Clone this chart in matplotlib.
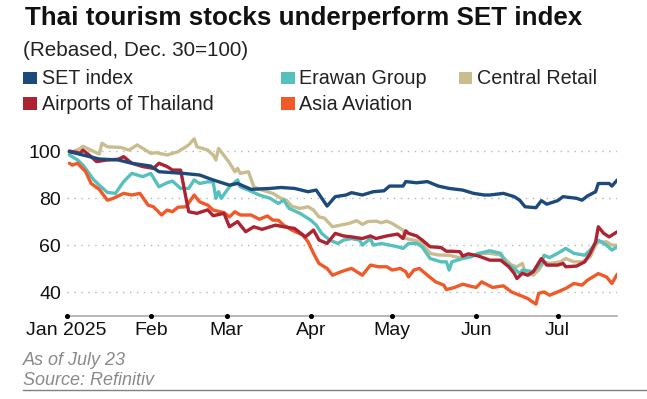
import matplotlib
matplotlib.use("Agg")
import matplotlib.pyplot as plt
import matplotlib.transforms as mtransforms
from matplotlib.patches import Rectangle
from matplotlib.lines import Line2D
import pandas as pd

plt.rcParams['font.family'] = ['Liberation Sans', 'DejaVu Sans']

# ---------------- data (rebased, Dec. 30 = 100) ----------------
set_dates = ['2025-01-02', '2025-01-07', '2025-01-13', '2025-01-20', '2025-01-25', '2025-02-01',
             '2025-02-04', '2025-02-13', '2025-02-19', '2025-02-24', '2025-03-02', '2025-03-05',
             '2025-03-10', '2025-03-17', '2025-03-21', '2025-03-26', '2025-03-31', '2025-04-03',
             '2025-04-07', '2025-04-10', '2025-04-14', '2025-04-16', '2025-04-20', '2025-04-24',
             '2025-04-28', '2025-04-30', '2025-05-05', '2025-05-06', '2025-05-10', '2025-05-14',
             '2025-05-18', '2025-05-22', '2025-05-27', '2025-05-31', '2025-06-04', '2025-06-06',
             '2025-06-11', '2025-06-15', '2025-06-17', '2025-06-19', '2025-06-23', '2025-06-25',
             '2025-06-27', '2025-07-01', '2025-07-03', '2025-07-08', '2025-07-10', '2025-07-12',
             '2025-07-15', '2025-07-16', '2025-07-20', '2025-07-21', '2025-07-23']
set_vals = [99.7, 98.3, 96.6, 96.2, 94.8, 93.6,
            91.2, 90.5, 89.8, 87.7, 85.5, 86.2,
            83.7, 84.1, 84.5, 84.1, 82.7, 83.4,
            76.6, 80.6, 81.3, 82.3, 81.3, 82.7,
            83.1, 85.1, 85.1, 87.0, 86.5, 87.0,
            85.1, 84.1, 83.4, 82.0, 81.3, 81.3,
            82.0, 80.6, 79.1, 76.3, 75.9, 78.9,
            77.4, 78.9, 80.6, 79.9, 79.1, 80.9,
            82.7, 86.2, 86.2, 85.1, 87.7]

central_dates = ['2025-01-02', '2025-01-06', '2025-01-07', '2025-01-13', '2025-01-14', '2025-01-16',
                 '2025-01-21', '2025-01-24', '2025-01-27', '2025-02-01', '2025-02-03', '2025-02-07',
                 '2025-02-11', '2025-02-13', '2025-02-15', '2025-02-17', '2025-02-18', '2025-02-22',
                 '2025-02-24', '2025-02-25', '2025-02-26', '2025-03-02', '2025-03-04', '2025-03-05',
                 '2025-03-06', '2025-03-09', '2025-03-11', '2025-03-14', '2025-03-18', '2025-03-21',
                 '2025-03-23', '2025-03-25', '2025-03-28', '2025-03-31', '2025-04-02', '2025-04-04',
                 '2025-04-06', '2025-04-09', '2025-04-12', '2025-04-15', '2025-04-18', '2025-04-20',
                 '2025-04-22', '2025-04-25', '2025-04-27', '2025-04-29', '2025-05-01', '2025-05-05',
                 '2025-05-06', '2025-05-10', '2025-05-12', '2025-05-15', '2025-05-18', '2025-05-22',
                 '2025-05-26', '2025-05-29', '2025-06-02', '2025-06-06', '2025-06-10', '2025-06-14',
                 '2025-06-16', '2025-06-18', '2025-06-19', '2025-06-22', '2025-06-24', '2025-06-26',
                 '2025-06-28', '2025-07-02', '2025-07-04', '2025-07-07', '2025-07-10', '2025-07-13',
                 '2025-07-15', '2025-07-16', '2025-07-19', '2025-07-21', '2025-07-23']
central_vals = [99.0, 101.1, 102.0, 98.7, 103.3, 101.8,
                101.5, 100.4, 102.6, 99.0, 99.3, 98.3,
                99.7, 101.1, 102.6, 105.2, 101.8, 100.4,
                98.3, 96.2, 101.1, 95.0, 91.2, 92.6,
                90.5, 91.2, 84.8, 83.4, 82.0, 79.9,
                79.1, 76.5, 75.6, 76.3, 74.9, 72.0,
                71.5, 67.8, 68.5, 69.2, 70.4, 68.8,
                70.0, 70.2, 69.5, 70.2, 69.2, 66.4,
                62.8, 61.8, 60.7, 56.5, 55.8, 55.7,
                54.6, 55.0, 56.5, 56.5, 55.8, 51.5,
                50.8, 52.2, 48.7, 47.2, 49.4, 52.9,
                52.2, 52.9, 54.3, 52.9, 52.9, 55.0,
                60.0, 61.4, 61.4, 60.0, 60.0]

erawan_dates = ['2025-01-02', '2025-01-05', '2025-01-07', '2025-01-11', '2025-01-13', '2025-01-16',
                '2025-01-19', '2025-01-22', '2025-01-25', '2025-01-29', '2025-02-01', '2025-02-04',
                '2025-02-07', '2025-02-09', '2025-02-12', '2025-02-15', '2025-02-17', '2025-02-19',
                '2025-02-22', '2025-02-24', '2025-02-25', '2025-02-26', '2025-02-27', '2025-03-02',
                '2025-03-05', '2025-03-06', '2025-03-09', '2025-03-13', '2025-03-17', '2025-03-20',
                '2025-03-22', '2025-03-24', '2025-03-28', '2025-04-01', '2025-04-03', '2025-04-05',
                '2025-04-08', '2025-04-11', '2025-04-13', '2025-04-16', '2025-04-19', '2025-04-20',
                '2025-04-23', '2025-04-24', '2025-04-27', '2025-04-30', '2025-05-03', '2025-05-05',
                '2025-05-07', '2025-05-10', '2025-05-12', '2025-05-15', '2025-05-19', '2025-05-21',
                '2025-05-22', '2025-05-23', '2025-05-27', '2025-05-30', '2025-06-02', '2025-06-06',
                '2025-06-10', '2025-06-12', '2025-06-15', '2025-06-17', '2025-06-18', '2025-06-22',
                '2025-06-25', '2025-06-26', '2025-06-28', '2025-07-01', '2025-07-04', '2025-07-07',
                '2025-07-11', '2025-07-13', '2025-07-15', '2025-07-16', '2025-07-19', '2025-07-21',
                '2025-07-23']
erawan_vals = [98.3, 96.2, 94.0, 87.7, 85.5, 82.4,
               82.0, 87.0, 90.5, 89.1, 90.5, 84.8,
               86.5, 87.2, 84.1, 84.1, 87.7, 86.2,
               86.9, 86.9, 79.9, 82.7, 79.9, 84.8,
               87.7, 84.8, 83.4, 81.3, 79.9, 77.7,
               79.1, 75.6, 73.5, 70.6, 68.5, 65.0,
               62.1, 60.7, 62.1, 62.8, 62.1, 60.0,
               62.8, 60.0, 60.7, 60.0, 59.3, 58.6,
               60.7, 60.7, 59.3, 54.3, 52.9, 52.9,
               49.4, 52.9, 54.3, 55.0, 56.5, 57.6,
               56.5, 52.2, 50.1, 47.9, 49.4, 48.7,
               52.2, 55.7, 54.7, 56.5, 58.6, 56.5,
               55.7, 57.9, 60.7, 62.1, 60.0, 57.9,
               59.3]

airports_dates = ['2025-01-02', '2025-01-06', '2025-01-07', '2025-01-10', '2025-01-12', '2025-01-16',
                  '2025-01-20', '2025-01-22', '2025-01-25', '2025-01-29', '2025-02-02', '2025-02-04',
                  '2025-02-07', '2025-02-09', '2025-02-12', '2025-02-14', '2025-02-15', '2025-02-18',
                  '2025-02-22', '2025-02-24', '2025-02-28', '2025-03-02', '2025-03-05', '2025-03-08',
                  '2025-03-11', '2025-03-14', '2025-03-19', '2025-03-22', '2025-03-26', '2025-03-30',
                  '2025-04-02', '2025-04-04', '2025-04-07', '2025-04-10', '2025-04-13', '2025-04-16',
                  '2025-04-20', '2025-04-23', '2025-04-25', '2025-04-29', '2025-05-03', '2025-05-05',
                  '2025-05-06', '2025-05-07', '2025-05-10', '2025-05-12', '2025-05-15', '2025-05-19',
                  '2025-05-21', '2025-05-23', '2025-05-26', '2025-05-27', '2025-05-29', '2025-06-02',
                  '2025-06-06', '2025-06-10', '2025-06-13', '2025-06-15', '2025-06-16', '2025-06-18',
                  '2025-06-20', '2025-06-22', '2025-06-25', '2025-06-27', '2025-07-01', '2025-07-03',
                  '2025-07-04', '2025-07-08', '2025-07-11', '2025-07-13', '2025-07-15', '2025-07-16',
                  '2025-07-18', '2025-07-20', '2025-07-23']
airports_vals = [100.0, 99.1, 100.4, 97.6, 95.5, 96.2,
                 96.5, 97.6, 94.8, 93.4, 92.6, 94.8,
                 93.4, 91.9, 91.9, 79.9, 74.2, 73.5,
                 75.0, 72.5, 73.5, 67.8, 70.0, 65.7,
                 67.8, 66.7, 68.5, 67.8, 67.1, 63.5,
                 66.4, 62.2, 60.7, 65.0, 63.9, 63.5,
                 62.8, 63.9, 62.8, 63.9, 64.7, 62.8,
                 66.1, 65.0, 63.9, 62.2, 59.3, 59.0,
                 57.4, 57.4, 57.2, 55.3, 56.3, 55.3,
                 53.6, 53.6, 50.8, 48.0, 45.8, 48.0,
                 47.2, 48.7, 54.3, 51.5, 51.5, 52.2,
                 50.8, 51.1, 52.9, 56.5, 61.4, 67.8,
                 65.0, 63.5, 65.7]

asia_dates = ['2025-01-02', '2025-01-03', '2025-01-05', '2025-01-08', '2025-01-10', '2025-01-13',
              '2025-01-16', '2025-01-18', '2025-01-22', '2025-01-25', '2025-01-28', '2025-01-31',
              '2025-02-02', '2025-02-05', '2025-02-07', '2025-02-09', '2025-02-11', '2025-02-14',
              '2025-02-17', '2025-02-19', '2025-02-22', '2025-02-24', '2025-02-28', '2025-03-02',
              '2025-03-04', '2025-03-06', '2025-03-10', '2025-03-13', '2025-03-16', '2025-03-18',
              '2025-03-20', '2025-03-22', '2025-03-25', '2025-03-29', '2025-03-31', '2025-04-02',
              '2025-04-04', '2025-04-07', '2025-04-09', '2025-04-12', '2025-04-14', '2025-04-16',
              '2025-04-20', '2025-04-23', '2025-04-26', '2025-04-29', '2025-05-01', '2025-05-04',
              '2025-05-06', '2025-05-07', '2025-05-09', '2025-05-11', '2025-05-14', '2025-05-17',
              '2025-05-20', '2025-05-21', '2025-05-24', '2025-05-27', '2025-05-30', '2025-06-01',
              '2025-06-03', '2025-06-07', '2025-06-11', '2025-06-14', '2025-06-17', '2025-06-20',
              '2025-06-23', '2025-06-24', '2025-06-26', '2025-06-28', '2025-07-01', '2025-07-04',
              '2025-07-07', '2025-07-10', '2025-07-12', '2025-07-16', '2025-07-19', '2025-07-21',
              '2025-07-23']
asia_vals = [94.8, 94.0, 94.8, 91.2, 86.2, 83.7,
             79.1, 79.8, 82.0, 81.3, 82.0, 77.0,
             76.3, 72.8, 74.9, 74.2, 76.1, 76.3,
             81.3, 78.4, 77.0, 74.9, 73.8, 72.0,
             74.2, 72.8, 72.8, 71.0, 72.4, 70.6,
             70.6, 68.5, 66.4, 64.3, 61.4, 56.5,
             52.2, 50.1, 47.2, 48.6, 49.4, 50.1,
             47.2, 51.5, 50.8, 50.8, 49.4, 50.1,
             48.7, 46.5, 49.4, 50.1, 47.2, 44.4,
             43.0, 41.1, 42.0, 43.4, 42.5, 42.0,
             44.4, 42.0, 42.7, 40.1, 38.7, 37.3,
             34.9, 39.5, 40.1, 38.7, 40.1, 41.6,
             43.7, 43.0, 45.1, 47.9, 46.5, 43.7,
             47.7]

series_names = ['SET index', 'Erawan Group', 'Central Retail', 'Airports of Thailand', 'Asia Aviation']
series_colors = ['#1b4a7b', '#55c0bd', '#c9bd90', '#ae2331', '#f05a28']

month_ticks = ['2025-01-01', '2025-02-01', '2025-03-01', '2025-04-01', '2025-05-01', '2025-06-01', '2025-07-01']
month_labels = ['Jan 2025', 'Feb', 'Mar', 'Apr', 'May', 'Jun', 'Jul']
y_ticks = [40, 60, 80, 100]

title = 'Thai tourism stocks underperform SET index'
subtitle = '(Rebased, Dec. 30=100)'
note = 'As of July 23'
source = 'Source: Refinitiv'

# ---------------- layout ----------------
W, H = 647, 399
fig = plt.figure(figsize=(W / 100, H / 100), dpi=100)
fig.patch.set_facecolor('white')


def fx(px):
    return px / W


def fy(py):
    return 1 - py / H


ax_left, ax_right, ax_top, ax_bottom = 66.7, 617.3, 136.9, 315.7
ax = fig.add_axes([fx(ax_left), fy(ax_bottom), fx(ax_right) - fx(ax_left), fy(ax_top) - fy(ax_bottom)])
ax.set_facecolor('none')

series = {
    'Central Retail': (central_dates, central_vals),
    'Erawan Group': (erawan_dates, erawan_vals),
    'Asia Aviation': (asia_dates, asia_vals),
    'Airports of Thailand': (airports_dates, airports_vals),
    'SET index': (set_dates, set_vals),
}
color_of = dict(zip(series_names, series_colors))
for z, (name, (d, v)) in enumerate(series.items()):
    ax.plot(pd.to_datetime(d), v, color=color_of[name], lw=2.4, solid_joinstyle='round',
            solid_capstyle='round', zorder=3 + z)

ax.set_xlim(pd.Timestamp('2025-01-01'), pd.Timestamp('2025-07-23'))
ax.set_ylim(30, 106)

for s in ['top', 'right', 'left']:
    ax.spines[s].set_visible(False)
ax.spines['bottom'].set_color('#aaaaaa')
ax.spines['bottom'].set_linewidth(1.2)

ax.set_yticks(y_ticks)
ax.set_yticklabels([str(t) for t in y_ticks])
ax.yaxis.grid(True, color='#b5b5b5', linestyle=(0, (1, 4)), linewidth=1.0)
ax.tick_params(axis='y', length=0, pad=4.1, labelsize=14, labelcolor='#111111')

mt = pd.to_datetime(month_ticks)
ax.set_xticks(mt)
ax.set_xticklabels(month_labels)
ax.tick_params(axis='x', length=0, pad=4.8, labelsize=14, labelcolor='#111111')
ax.xaxis.grid(False)

trans = mtransforms.blended_transform_factory(ax.transData, ax.transAxes)
ax.scatter(mt, [0] * len(mt), s=7, color='black', transform=trans, clip_on=False, zorder=10)

# ---------------- text ----------------
fig.text(fx(25), fy(25), title, fontsize=18.7, fontweight='bold', color='#111111',
         ha='left', va='baseline')
fig.text(fx(23), fy(56), subtitle, fontsize=14.9, color='#222222', ha='left', va='baseline')

legend_pos = {
    'SET index': (23.3, 71.7, 84),
    'Erawan Group': (281, 71.7, 84),
    'Central Retail': (458.5, 71.7, 84),
    'Airports of Thailand': (23.3, 97, 110),
    'Asia Aviation': (281, 97, 110),
}
for name in series_names:
    sx, sy, base = legend_pos[name]
    fig.patches.append(Rectangle((fx(sx), fy(sy + 12.5)), fx(13.5), 12.5 / H,
                                 transform=fig.transFigure, facecolor=color_of[name],
                                 edgecolor='none'))
    fig.text(fx(sx + 18.4), fy(base), name, fontsize=14.2, color='#222222',
             ha='left', va='baseline')

fig.text(fx(23), fy(365), note, fontsize=13, style='italic', color='#8a8a8a',
         ha='left', va='baseline')
fig.text(fx(23), fy(385), source, fontsize=13, style='italic', color='#8a8a8a',
         ha='left', va='baseline')
fig.add_artist(Line2D([fx(23), 1.0], [fy(389.5), fy(389.5)], transform=fig.transFigure,
                      color='#808080', lw=1.0))

fig.savefig('out.png', dpi=100, facecolor='white')
